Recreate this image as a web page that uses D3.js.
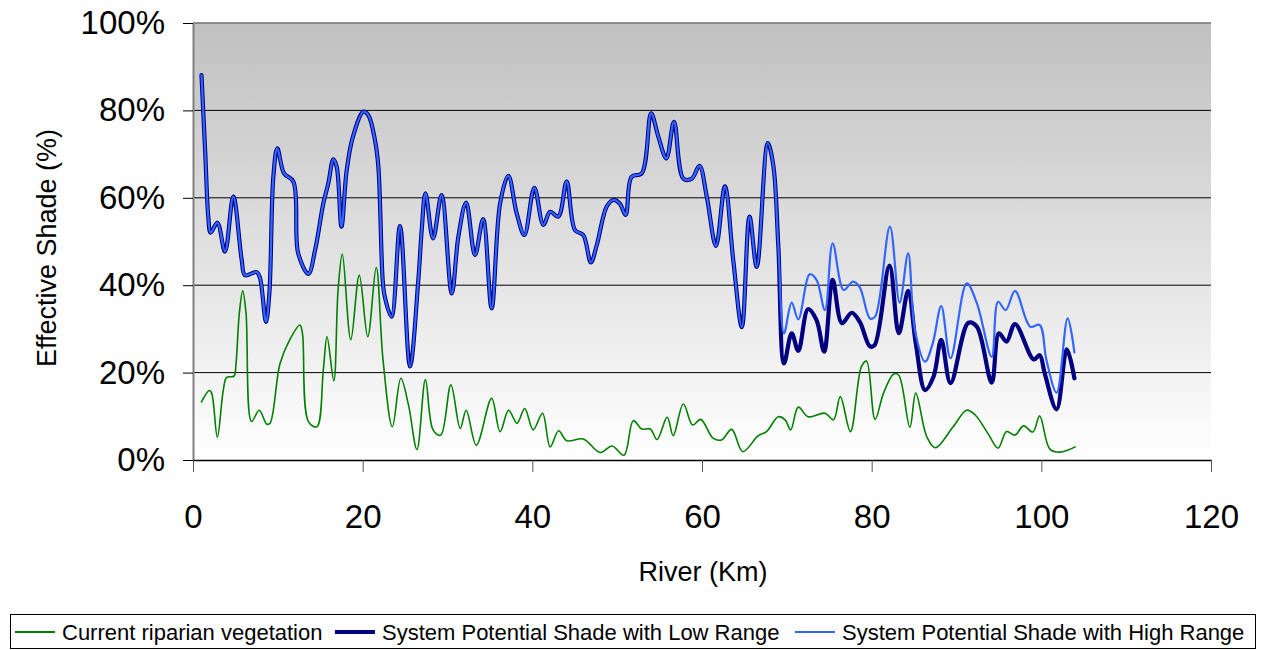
<!DOCTYPE html>
<html>
<head>
<meta charset="utf-8">
<script src="https://cdn.jsdelivr.net/npm/d3@7/dist/d3.min.js"></script>
<style>
  html, body { margin: 0; padding: 0; background: #fff; }
  svg { display: block; font-family: "Liberation Sans", Arial, sans-serif; }
</style>
</head>
<body>
<svg id="chart" width="1265" height="650"></svg>
<script>
// River kilometre / effective shade (fraction) readings.
// Both system-potential ranges follow the same profile up to km 69.
const sharedKm = [1.0, 1.45, 1.8, 2.08, 2.87, 3.77, 4.75, 5.74, 6.13, 7.5, 7.9, 8.6, 9.0, 9.47, 9.94, 10.73, 11.83, 12.4, 13.6, 14.4, 15.36, 15.95, 16.54, 16.94, 17.5, 18.1, 18.8, 20.08, 20.67, 21.45, 21.85, 22.36, 22.6, 23.4, 24.4, 25.58, 26.56, 26.96, 27.4, 28.3, 29.3, 30.5, 31.28, 32.2, 33.24, 34.2, 35.2, 36.2, 37.17, 38.15, 39.06, 40.24, 41.3, 42.1, 43.06, 44.05, 45.03, 46.0, 46.9, 47.6, 48.77, 49.55, 50.3, 51.0, 51.7, 52.9, 54.0, 54.85, 55.8, 56.7, 57.8, 58.8, 59.7, 60.56, 61.65, 62.7, 63.7, 64.7, 65.6, 66.45, 67.75, 68.4, 69.0];
const sharedShade = [0.881, 0.70, 0.557, 0.52, 0.543, 0.477, 0.603, 0.458, 0.423, 0.43, 0.416, 0.316, 0.381, 0.648, 0.713, 0.656, 0.637, 0.473, 0.426, 0.481, 0.587, 0.633, 0.688, 0.671, 0.534, 0.66, 0.736, 0.797, 0.789, 0.732, 0.671, 0.412, 0.374, 0.328, 0.535, 0.214, 0.412, 0.526, 0.61, 0.507, 0.606, 0.381, 0.511, 0.589, 0.469, 0.551, 0.347, 0.587, 0.65, 0.565, 0.515, 0.623, 0.538, 0.568, 0.557, 0.637, 0.526, 0.515, 0.452, 0.492, 0.58, 0.595, 0.587, 0.561, 0.648, 0.656, 0.793, 0.74, 0.69, 0.774, 0.644, 0.644, 0.673, 0.603, 0.49, 0.626, 0.454, 0.304, 0.557, 0.442, 0.725, 0.675, 0.488];

const lowTailKm = [69.67, 70.57, 71.35, 72.5, 73.5, 74.4, 75.4, 76.5, 77.65, 78.6, 79.8, 80.35, 82.1, 83.2, 84.3, 85.2, 86.3, 87.3, 88.2, 89.3, 91.4, 92.4, 94.15, 95.0, 95.9, 96.9, 99.1, 99.8, 100.4, 101.8, 103.0, 103.9];
const lowTail = [0.221, 0.29, 0.25, 0.345, 0.32, 0.248, 0.412, 0.313, 0.337, 0.316, 0.26, 0.263, 0.445, 0.29, 0.387, 0.267, 0.16, 0.191, 0.275, 0.176, 0.314, 0.305, 0.177, 0.29, 0.271, 0.311, 0.23, 0.24, 0.198, 0.116, 0.253, 0.187];

const highTailKm = [69.67, 70.57, 71.35, 72.7, 73.5, 74.5, 75.4, 76.7, 77.8, 78.6, 79.8, 80.4, 82.15, 83.3, 84.3, 85.1, 86.3, 87.2, 88.2, 89.3, 91.2, 92.4, 94.15, 94.9, 95.8, 96.9, 98.7, 99.8, 100.6, 101.8, 103.1, 103.9];
const highTail = [0.29, 0.36, 0.322, 0.425, 0.412, 0.343, 0.496, 0.389, 0.408, 0.395, 0.324, 0.328, 0.534, 0.36, 0.473, 0.297, 0.225, 0.267, 0.352, 0.233, 0.404, 0.359, 0.236, 0.362, 0.343, 0.387, 0.305, 0.309, 0.229, 0.154, 0.324, 0.246];

const vegKm = [1.0, 1.92, 2.2, 2.87, 3.57, 3.97, 4.83, 5.07, 5.46, 5.86, 6.25, 6.9, 7.8, 8.7, 9.08, 10.26, 11.4, 12.6, 12.9, 13.6, 14.6, 15.36, 15.8, 16.6, 17.1, 17.6, 18.6, 19.6, 20.6, 21.6, 22.4, 23.5, 24.5, 25.4, 26.4, 27.4, 28.3, 29.2, 30.4, 31.5, 32.2, 33.4, 35.2, 36.2, 37.2, 38.2, 39.1, 40.1, 41.2, 42.1, 43.1, 44.05, 46.0, 48.0, 49.4, 50.8, 51.9, 52.9, 53.9, 54.7, 55.9, 56.6, 57.8, 58.9, 59.85, 61.3, 62.3, 63.5, 64.8, 66.6, 67.6, 69.0, 69.8, 70.45, 71.35, 72.5, 74.5, 75.5, 76.3, 77.5, 78.8, 79.4, 80.4, 81.4, 82.6, 83.2, 84.5, 85.2, 86.5, 87.5, 89.6, 91.2, 92.2, 93.7, 94.9, 95.9, 96.9, 97.9, 99.0, 99.8, 101.0, 102.2, 104.0];
const vegShade = [0.133, 0.159, 0.153, 0.052, 0.16, 0.189, 0.192, 0.221, 0.336, 0.387, 0.336, 0.088, 0.114, 0.082, 0.084, 0.221, 0.275, 0.309, 0.29, 0.088, 0.076, 0.206, 0.282, 0.181, 0.389, 0.471, 0.275, 0.423, 0.282, 0.441, 0.229, 0.076, 0.187, 0.126, 0.024, 0.184, 0.069, 0.057, 0.172, 0.072, 0.114, 0.034, 0.141, 0.065, 0.114, 0.084, 0.118, 0.069, 0.107, 0.03, 0.067, 0.044, 0.048, 0.017, 0.032, 0.011, 0.09, 0.071, 0.071, 0.047, 0.098, 0.056, 0.128, 0.08, 0.093, 0.05, 0.046, 0.07, 0.019, 0.055, 0.065, 0.099, 0.092, 0.069, 0.121, 0.099, 0.107, 0.092, 0.145, 0.065, 0.214, 0.226, 0.093, 0.153, 0.197, 0.194, 0.075, 0.153, 0.053, 0.028, 0.076, 0.114, 0.103, 0.061, 0.027, 0.065, 0.057, 0.078, 0.064, 0.101, 0.025, 0.018, 0.03];

const xTicks = [0, 20, 40, 60, 80, 100, 120];
const yTicks = [0, 0.2, 0.4, 0.6, 0.8, 1.0];

const seriesNames = ["Current riparian vegetation", "System Potential Shade with Low Range", "System Potential Shade with High Range"];
const seriesColors = ["#008000", "#000080", "#3366ff"];
const seriesWidths = [1.6, 4.2, 2.2];

const zip = (ks, vs) => ks.map((k, i) => ({ km: k, v: vs[i] }));
const vegData = zip(vegKm, vegShade);
const lowData = zip(sharedKm.concat(lowTailKm), sharedShade.concat(lowTail));
const highData = zip(sharedKm.concat(highTailKm), sharedShade.concat(highTail));

const svg = d3.select("#chart");
const plot = { left: 193, right: 1211, top: 23, bottom: 460 };

const x = d3.scaleLinear().domain([0, 120]).range([plot.left, plot.right]);
const y = d3.scaleLinear().domain([0, 1]).range([plot.bottom, plot.top]);

// Plot area fill: grey at the top fading to white
const defs = svg.append("defs");
const grad = defs.append("linearGradient").attr("id", "plotFill")
  .attr("x1", 0).attr("y1", 0).attr("x2", 0).attr("y2", 1);
grad.append("stop").attr("offset", "0%").attr("stop-color", "#c0c0c0");
grad.append("stop").attr("offset", "100%").attr("stop-color", "#ffffff");

svg.append("rect")
  .attr("x", plot.left).attr("y", plot.top)
  .attr("width", plot.right - plot.left).attr("height", plot.bottom - plot.top)
  .attr("fill", "url(#plotFill)");

// Horizontal gridlines
svg.append("g").selectAll("line")
  .data(yTicks.filter(t => t > 0 && t < 1))
  .join("line")
  .attr("x1", plot.left).attr("x2", plot.right)
  .attr("y1", d => y(d)).attr("y2", d => y(d))
  .attr("stroke", "#000").attr("stroke-width", 1);

// Top border of the plot area
svg.append("line")
  .attr("x1", plot.left).attr("x2", plot.right)
  .attr("y1", y(1)).attr("y2", y(1))
  .attr("stroke", "#707070").attr("stroke-width", 1.5);

// Y axis
const yAxis = svg.append("g")
  .attr("transform", `translate(${plot.left},0)`)
  .call(d3.axisLeft(y).tickValues(yTicks).tickFormat(d3.format(".0%"))
    .tickSize(10).tickSizeOuter(0).tickPadding(18));
yAxis.select(".domain").attr("stroke", "#808080").attr("stroke-width", 2);
yAxis.selectAll(".tick line").attr("stroke", "#000");
yAxis.selectAll("text").attr("font-size", 33).attr("fill", "#000")
  .attr("font-family", "'Liberation Sans', Arial, sans-serif");

// X axis
const xAxis = svg.append("g")
  .attr("transform", `translate(0,${plot.bottom})`)
  .call(d3.axisBottom(x).tickValues(xTicks).tickFormat(d3.format("d"))
    .tickSize(12).tickSizeOuter(0).tickPadding(33));
xAxis.select(".domain").attr("stroke", "#000").attr("stroke-width", 1.5);
xAxis.selectAll(".tick line").attr("stroke", "#555");
xAxis.selectAll("text").attr("font-size", 33).attr("fill", "#000")
  .attr("font-family", "'Liberation Sans', Arial, sans-serif");

// Axis titles
svg.append("text")
  .attr("x", (plot.left + plot.right) / 2 + 1).attr("y", 581)
  .attr("text-anchor", "middle").attr("font-size", 27)
  .text("River (Km)");
svg.append("text")
  .attr("transform", "translate(56,248) rotate(-90)")
  .attr("text-anchor", "middle").attr("font-size", 27)
  .text("Effective Shade (%)");

// Series lines
const line = d3.line()
  .x(d => x(d.km)).y(d => y(d.v))
  .curve(d3.curveCatmullRom.alpha(0.5));

[vegData, lowData, highData].forEach((data, i) => {
  svg.append("path")
    .datum(data)
    .attr("d", line)
    .attr("fill", "none")
    .attr("stroke", seriesColors[i])
    .attr("stroke-width", seriesWidths[i])
    .attr("stroke-linejoin", "round")
    .attr("stroke-linecap", "round");
});

// Legend
const legend = svg.append("g");
legend.append("rect")
  .attr("x", 10.5).attr("y", 614.5).attr("width", 1245).attr("height", 34)
  .attr("fill", "#fff").attr("stroke", "#000").attr("stroke-width", 1);
const legendX = [15, 335, 795];
seriesNames.forEach((name, i) => {
  const g = legend.append("g").attr("transform", `translate(${legendX[i]},632)`);
  g.append("line").attr("x1", 0).attr("x2", 40).attr("y1", 0).attr("y2", 0)
    .attr("stroke", seriesColors[i]).attr("stroke-width", i === 1 ? 4 : 2);
  g.append("text").attr("x", 47).attr("y", 0).attr("dy", "0.35em")
    .attr("font-size", 22).text(name);
});
</script>
</body>
</html>
